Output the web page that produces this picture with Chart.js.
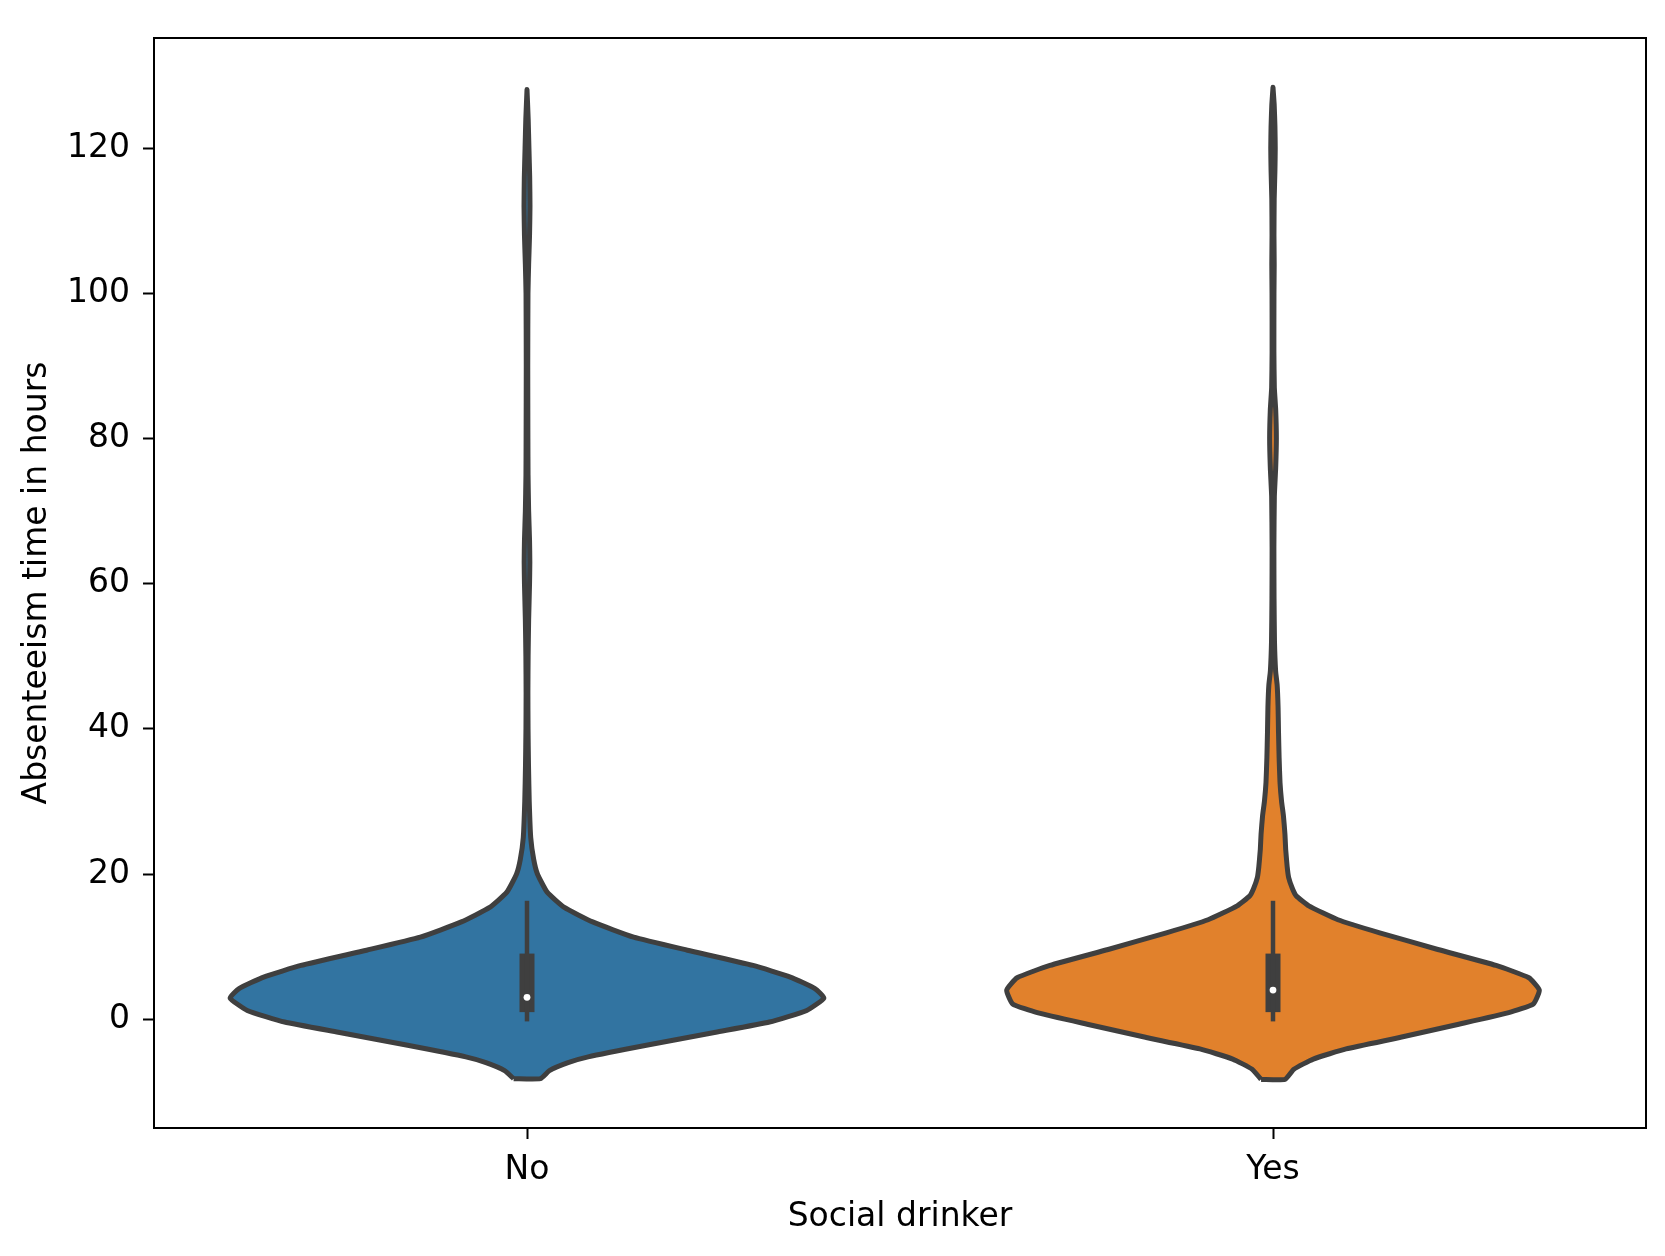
<!DOCTYPE html>
<html>
<head>
<meta charset="utf-8">
<script src="https://cdn.jsdelivr.net/npm/chart.js@4.4.1/dist/chart.umd.min.js"></script>
<style>
    html, body { margin: 0; padding: 0; background: #ffffff; }
    #chart { display: block; }
</style>
</head>
<body>
<canvas id="chart" width="1665" height="1256"></canvas>
<script>
// categories on the x axis
const categories = ['No', 'Yes'];
const yTicks = [0, 20, 40, 60, 80, 100, 120];

// violin outline: value level -> half width (in category units)
const noLevels = [-8.2, -7.1, -6.0, -5.2, -3.6, -1.8, -0.4, 1.2, 2.9, 4.2, 5.8, 7.4, 9.5, 11.3, 13.4, 15.4, 17.5, 20, 22, 25, 30,
    35, 40, 45, 50, 55, 60, 63, 66, 70, 75, 80, 90, 100, 104, 108, 112, 116, 120, 124, 128.1];
const noHalfWidth = [0.018, 0.030, 0.055, 0.082, 0.160, 0.253, 0.325, 0.375, 0.398, 0.386, 0.353, 0.303, 0.215, 0.143, 0.088, 0.050, 0.027, 0.014, 0.009, 0.005, 0.003,
    0.002, 0.0014, 0.0012, 0.0015, 0.0022, 0.0034, 0.0038, 0.0034, 0.0022, 0.0014, 0.0012, 0.001, 0.0013, 0.0022, 0.0034, 0.004, 0.0036, 0.0026, 0.0016, 0];

const yesLevels = [-8.3, -6.9, -5.5, -4.1, -2.5, -0.7, 0.9, 2.1, 4.0, 5.7, 7.4, 9.6, 11.9, 13.7, 15.6, 17, 18, 19.5, 21, 23.4, 25.5, 28, 30,
    32.6, 36, 39.5, 43, 46, 48, 52, 58, 65, 72, 76, 80, 84, 87, 92, 100, 104, 108, 113, 117, 120, 123, 126, 128.4];
const yesHalfWidth = [0.016, 0.028, 0.054, 0.098, 0.171, 0.249, 0.316, 0.349, 0.357, 0.343, 0.299, 0.221, 0.143, 0.087, 0.048, 0.031, 0.026, 0.021, 0.019, 0.017, 0.016, 0.014, 0.0115,
    0.0094, 0.0082, 0.0074, 0.0068, 0.0056, 0.0035, 0.002, 0.0014, 0.0012, 0.0018, 0.0036, 0.0045, 0.0036, 0.0018, 0.0012, 0.0013, 0.0016, 0.0013, 0.0016, 0.0026, 0.003, 0.0026, 0.0016, 0];

// inner box: [q1, median, q3] and whiskers [low, high]
const noBox = [2, 3, 8];
const noWhisker = [0, 16];
const yesBox = [2, 4, 8];
const yesWhisker = [0, 16];

const fillColors = ['#3274a1', '#e1812c'];
const gray = '#3f3f3f';
const font = { family: 'DejaVu Sans', size: 33 };

function violinPoints(center, levels, half) {
    const left = levels.map((v, i) => ({ x: center - half[i], y: v }));
    const right = levels.map((v, i) => ({ x: center + half[i], y: v })).reverse();
    return left.concat(right, [left[0]]);
}

function violinDataset(center, levels, half, color) {
    return {
        data: violinPoints(center, levels, half),
        borderColor: gray,
        borderWidth: 5,
        borderJoinStyle: 'round',
        backgroundColor: color,
        fill: 'shape',
        pointRadius: 0,
        tension: 0.15,
        order: 2
    };
}

function segmentDataset(center, range, width) {
    return {
        data: [{ x: center, y: range[0] }, { x: center, y: range[range.length - 1] }],
        borderColor: gray,
        borderWidth: width,
        borderCapStyle: 'square',
        pointRadius: 0,
        fill: false,
        order: 1
    };
}

function medianDataset(center, box) {
    return {
        data: [{ x: center, y: box[1] }],
        showLine: false,
        pointRadius: 3.4,
        pointBorderWidth: 0,
        pointBackgroundColor: '#ffffff',
        order: 0
    };
}

const datasets = [
    violinDataset(0, noLevels, noHalfWidth, fillColors[0]),
    violinDataset(1, yesLevels, yesHalfWidth, fillColors[1]),
    segmentDataset(0, noWhisker, 4.5),
    segmentDataset(1, yesWhisker, 4.5),
    segmentDataset(0, [noBox[0], noBox[2]], 15),
    segmentDataset(1, [yesBox[0], yesBox[2]], 15),
    medianDataset(0, noBox),
    medianDataset(1, yesBox)
];

const framePlugin = {
    id: 'frame',
    afterDraw(chart) {
        const { ctx, chartArea } = chart;
        ctx.save();
        ctx.strokeStyle = '#000000';
        ctx.lineWidth = 2;
        ctx.strokeRect(chartArea.left, chartArea.top, chartArea.right - chartArea.left, chartArea.bottom - chartArea.top);
        ctx.restore();
    }
};

const axisGrid = {
    drawOnChartArea: false,
    tickLength: 11,
    tickWidth: 2,
    tickColor: '#000000'
};

new Chart(document.getElementById('chart'), {
    type: 'line',
    data: { datasets: datasets },
    options: {
        responsive: false,
        animation: false,
        devicePixelRatio: 1,
        layout: { padding: { top: 38, right: 19, left: 0, bottom: 0 } },
        plugins: {
            legend: { display: false },
            tooltip: { enabled: false }
        },
        scales: {
            x: {
                type: 'linear',
                min: -0.5,
                max: 1.5,
                afterBuildTicks: (scale) => {
                    scale.ticks = categories.map((c, i) => ({ value: i }));
                },
                afterFit: (scale) => { scale.height = 128; },
                ticks: {
                    font: font,
                    color: '#000000',
                    padding: 12,
                    maxRotation: 0,
                    callback: (value) => categories[value]
                },
                grid: axisGrid,
                border: { display: true, color: '#000000', width: 2 },
                title: {
                    display: true,
                    text: 'Social drinker',
                    font: font,
                    color: '#000000',
                    padding: { top: 0, bottom: 19 }
                }
            },
            y: {
                type: 'linear',
                min: -15.0,
                max: 135.2,
                afterBuildTicks: (scale) => {
                    scale.ticks = yTicks.map(v => ({ value: v }));
                },
                afterFit: (scale) => { scale.width = 154; },
                ticks: {
                    font: font,
                    color: '#000000',
                    padding: 13
                },
                grid: axisGrid,
                border: { display: true, color: '#000000', width: 2 },
                title: {
                    display: true,
                    text: 'Absenteeism time in hours',
                    font: font,
                    color: '#000000',
                    padding: { top: 18, bottom: 0 }
                }
            }
        }
    },
    plugins: [framePlugin]
});
</script>
</body>
</html>
